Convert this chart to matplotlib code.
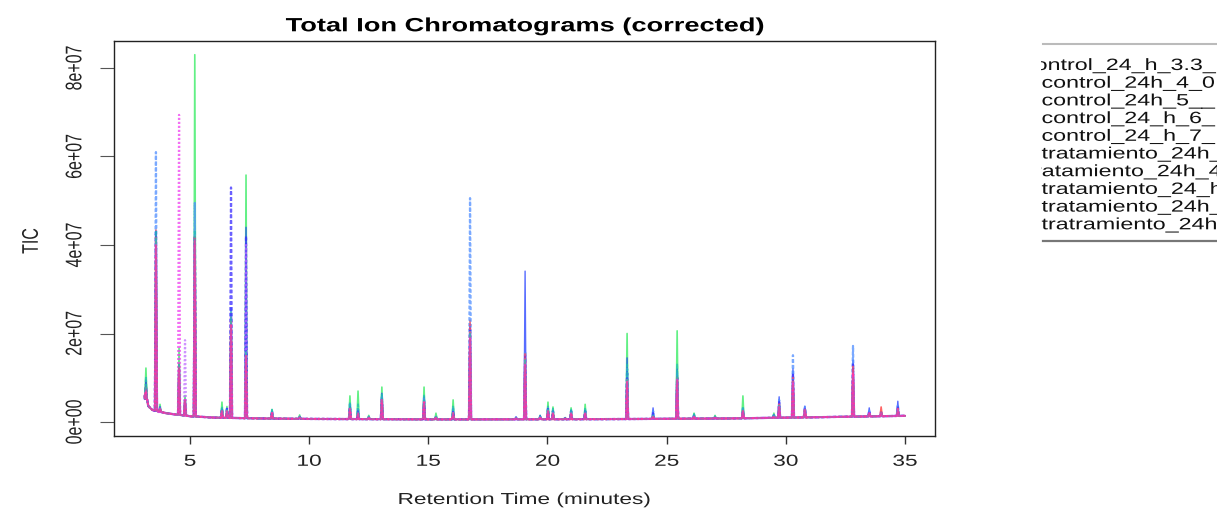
import numpy as np
import matplotlib
matplotlib.use("Agg")
import matplotlib.pyplot as plt
from matplotlib.lines import Line2D
from matplotlib.patheffects import AbstractPathEffect
from matplotlib.transforms import Affine2D, Bbox

plt.rcParams['font.family'] = ['Liberation Sans', 'DejaVu Sans']

# sample files (names as they come out of the legend)
sample_names = ["control_24_h_3.3_", "control_24h_4_0", "control_24h_5__",
                "control_24_h_6_", "control_24_h_7_", "tratamiento_24h_",
                "tratamiento_24h_4", "tratamiento_24_h", "tratamiento_24h_",
                "tratramiento_24h"]
line_colors = ["#FF3030", "#2EEB5C", "#1F3BFF", "#4D8DFF", "#3A2BFF",
               "#F040F0", "#C070FF", "#FF4D6D", "#22C0B0", "#FF2BAA"]
line_styles = ["-", "-", "-", (0, (1.6, 1.0)), (0, (1.6, 1.0)),
               (0, (0.9, 0.9)), (0, (0.9, 0.9)), (0, (0.9, 0.9)),
               (0, (2.5, 1, 0.8, 1)), "-"]
line_widths = [1.2, 1.2, 1.0, 1.6, 1.6, 1.6, 1.6, 1.6, 1.4, 1.3]

# baseline of the corrected TIC (minutes, counts / 1e6)
base_rt = [3.1, 3.25, 3.4, 3.7, 4.0, 5.0, 6.0, 8.0, 10.0, 15.0, 17.5, 22.5, 27.5, 31.5, 35.0]
base_tic = [6.0, 3.6, 2.8, 2.3, 2.0, 1.3, 1.0, 0.8, 0.7, 0.6, 0.6, 0.65, 0.8, 1.1, 1.4]

# peak apex times (minutes) and apex heights per sample (counts / 1e6)
peak_rt = [3.15, 3.57, 3.74, 4.54, 4.79, 5.20, 6.34, 6.55, 6.72, 7.35,
           8.44, 9.60, 11.71, 12.05, 12.50, 13.05, 14.82, 15.32, 16.04, 16.75,
           18.68, 19.06, 19.69, 20.02, 20.23, 20.74, 20.99, 21.58, 23.34, 24.43,
           25.44, 26.15, 27.03, 28.20, 29.50, 29.72, 30.30, 30.80, 32.82, 33.50,
           34.00, 34.70]
peak_height = [
    [9.0, 12.2, 9.5, 8.0, 8.0, 7.0, 7.0, 8.0, 10.0, 7.0],
    [43.4, 42.0, 43.0, 61.0, 43.0, 40.0, 41.0, 42.0, 43.0, 40.0],
    [3.0, 4.0, 3.5, 3.0, 3.0, 3.0, 3.0, 3.0, 3.0, 3.0],
    [13.0, 16.7, 13.0, 12.0, 12.0, 69.4, 12.0, 13.0, 13.0, 12.0],
    [5.0, 6.0, 5.0, 5.0, 5.0, 5.0, 18.5, 5.0, 5.0, 5.0],
    [42.0, 83.0, 41.0, 49.5, 42.0, 40.0, 40.0, 42.0, 43.0, 41.0],
    [2.5, 4.5, 3.0, 3.0, 3.0, 2.5, 2.5, 2.5, 3.5, 2.5],
    [2.5, 3.5, 3.0, 3.0, 3.0, 2.5, 2.5, 2.5, 3.0, 2.5],
    [23.0, 25.0, 24.0, 26.0, 53.0, 24.0, 22.0, 23.0, 24.0, 22.0],
    [15.0, 55.8, 44.0, 16.0, 42.0, 15.0, 40.0, 15.0, 16.0, 15.0],
    [2.0, 2.8, 2.5, 2.5, 2.5, 2.0, 2.0, 2.0, 2.8, 2.0],
    [1.0, 1.6, 1.2, 1.2, 1.2, 1.0, 1.0, 1.0, 1.4, 1.0],
    [3.0, 5.9, 4.0, 4.0, 3.5, 3.0, 3.0, 3.0, 4.5, 3.0],
    [2.0, 7.0, 3.0, 3.0, 2.5, 2.0, 2.0, 2.0, 4.0, 2.0],
    [1.0, 1.5, 1.2, 1.2, 1.0, 1.0, 1.0, 1.0, 1.2, 1.0],
    [5.0, 7.9, 6.5, 6.0, 5.5, 5.0, 5.0, 5.0, 6.5, 5.0],
    [4.5, 7.9, 5.7, 5.5, 5.0, 4.5, 4.5, 4.5, 6.0, 4.5],
    [1.0, 2.0, 1.2, 1.2, 1.0, 1.0, 1.0, 1.0, 1.5, 1.0],
    [2.0, 5.0, 3.0, 3.0, 2.5, 2.0, 2.0, 2.0, 3.5, 2.0],
    [23.0, 18.0, 22.0, 50.6, 21.0, 20.0, 19.0, 22.0, 20.0, 19.0],
    [0.8, 1.0, 1.2, 1.0, 1.0, 0.8, 0.8, 0.8, 1.0, 0.8],
    [15.6, 13.0, 34.1, 16.0, 15.0, 14.0, 14.0, 15.6, 14.0, 13.0],
    [1.0, 1.5, 1.5, 1.2, 1.2, 1.0, 1.0, 1.0, 1.2, 1.0],
    [2.5, 4.5, 3.0, 3.0, 3.0, 2.5, 2.5, 2.5, 3.5, 2.5],
    [2.0, 3.4, 2.5, 2.5, 2.5, 2.0, 2.0, 2.0, 3.0, 2.0],
    [0.8, 1.0, 1.0, 1.0, 1.0, 0.8, 0.8, 0.8, 1.0, 0.8],
    [2.0, 3.2, 2.5, 2.5, 2.5, 2.0, 2.0, 2.0, 2.8, 2.0],
    [2.0, 4.0, 2.5, 2.5, 2.5, 2.0, 2.0, 2.0, 3.0, 2.0],
    [9.5, 20.0, 14.5, 12.0, 11.0, 9.5, 9.0, 9.5, 13.0, 9.0],
    [1.5, 1.2, 3.2, 2.5, 2.0, 1.2, 1.2, 1.5, 1.5, 1.2],
    [10.0, 20.6, 12.0, 11.0, 10.0, 10.0, 9.5, 10.0, 13.0, 9.5],
    [1.2, 2.0, 1.5, 1.5, 1.5, 1.2, 1.2, 1.2, 1.8, 1.2],
    [1.0, 1.5, 1.2, 1.2, 1.2, 1.0, 1.0, 1.0, 1.3, 1.0],
    [2.5, 5.9, 3.0, 3.0, 2.5, 2.5, 2.5, 2.5, 3.5, 2.5],
    [1.2, 2.0, 1.5, 1.5, 1.5, 1.2, 1.2, 1.2, 1.8, 1.2],
    [4.0, 3.0, 5.7, 5.0, 4.5, 3.5, 3.5, 4.0, 4.0, 3.5],
    [10.0, 8.0, 12.0, 15.1, 11.0, 9.0, 9.0, 10.0, 9.0, 9.0],
    [3.0, 2.5, 3.6, 3.4, 3.2, 2.8, 2.8, 3.0, 3.0, 2.8],
    [12.5, 9.0, 14.0, 17.2, 13.0, 11.0, 11.0, 12.5, 10.0, 11.0],
    [2.0, 2.0, 3.2, 2.5, 2.5, 2.0, 2.0, 2.0, 2.0, 2.0],
    [3.4, 2.0, 2.2, 2.2, 2.2, 2.0, 2.0, 2.5, 2.0, 2.0],
    [3.0, 2.5, 4.7, 4.0, 3.5, 2.8, 2.8, 3.0, 3.0, 2.8],
]

x_ticks = [5, 10, 15, 20, 25, 30, 35]
y_ticks = [0, 2e7, 4e7, 6e7, 8e7]
y_tick_labels = ["0e+00", "2e+07", "4e+07", "6e+07", "8e+07"]

W, H = 1217, 508
SX = 1.42  # glyphs in this device are wider than tall


class HStretch(AbstractPathEffect):
    """Widen text glyphs horizontally about x0 (display px) or the ink centre."""

    def __init__(self, sx=SX, x0=None):
        super().__init__()
        self.sx = sx
        self.x0 = x0

    def draw_path(self, renderer, gc, tpath, affine, rgbFace=None):
        if self.x0 is None:
            bb = tpath.get_extents(affine)
            x0 = 0.5 * (bb.x0 + bb.x1)
        else:
            x0 = self.x0
        st = Affine2D().translate(-x0, 0).scale(self.sx, 1).translate(x0, 0)
        renderer.draw_path(gc, tpath, affine + st, rgbFace)


fig = plt.figure(figsize=(W / 100, H / 100), dpi=100)
ax = fig.add_axes([114 / W, 1 - 436 / H, (935 - 114) / W, (436 - 41) / H])

half_w = 0.045
for j in range(len(sample_names)):
    xs = list(base_rt)
    ys = list(base_tic)
    for rt, row in zip(peak_rt, peak_height):
        foot = np.interp(rt, base_rt, base_tic)
        xs += [rt - half_w, rt, rt + half_w]
        ys += [foot, row[j], foot]
    order = np.argsort(xs)
    ax.plot(np.array(xs)[order], np.array(ys)[order] * 1e6,
            color=line_colors[j], ls=line_styles[j], lw=line_widths[j], alpha=0.75)

ax.set_xlim(1.81, 36.26)
ax.set_ylim(-3.16e6, 8.61e7)
ax.set_xticks(x_ticks)
ax.set_xticklabels([str(v) for v in x_ticks])
ax.set_yticks(y_ticks)
ax.set_yticklabels(y_tick_labels, rotation=90, va="center")
ax.tick_params(axis="x", length=5.8, width=1.0, pad=7, labelsize=11.5, color="#333333")
ax.tick_params(axis="y", length=10, width=0.8, pad=13, labelsize=11.5, color="#555555")
for sp in ax.spines.values():
    sp.set_linewidth(1.0)
    sp.set_color("#222222")

for lab in ax.get_xticklabels() + ax.get_yticklabels():
    lab.set_path_effects([HStretch()])
    lab.set_color("#222222")

ttl = ax.set_title("Total Ion Chromatograms (corrected)", fontsize=13.8,
                   fontweight="bold", pad=7)
ttl.set_path_effects([HStretch()])

xl = fig.text(524.5 / W, 1 - 504 / H, "Retention Time (minutes)", ha="center",
              va="baseline", fontsize=11.5, color="#222222")
xl.set_path_effects([HStretch()])
yl = fig.text(31 / W, 1 - 241 / H, "TIC", ha="center", va="center", rotation=90,
              fontsize=11.5, color="#222222")
yl.set_path_effects([HStretch()])

# legend, cut off by the device edge
legend_x = [1023, 1041.5, 1041.5, 1041.5, 1041.5, 1041.5, 1027.5, 1041.5, 1041.5, 1041.5]
clip = Bbox([[1040.5, 0], [W, H]])
for i, name in enumerate(sample_names):
    t = fig.text(legend_x[i] / W, 1 - (70 + 17.7 * i) / H, name, ha="left",
                 va="baseline", fontsize=11.8, color="#111111")
    t.set_path_effects([HStretch(x0=legend_x[i])])
    t.set_clip_box(clip)
    t.set_clip_on(True)
fig.add_artist(Line2D([1043 / W, 1], [1 - 44 / H] * 2, transform=fig.transFigure,
                      color="#bbbbbb", lw=1.5))
fig.add_artist(Line2D([1043 / W, 1], [1 - 241 / H] * 2, transform=fig.transFigure,
                      color="#777777", lw=1.6))

fig.savefig("out.png", dpi=100)
